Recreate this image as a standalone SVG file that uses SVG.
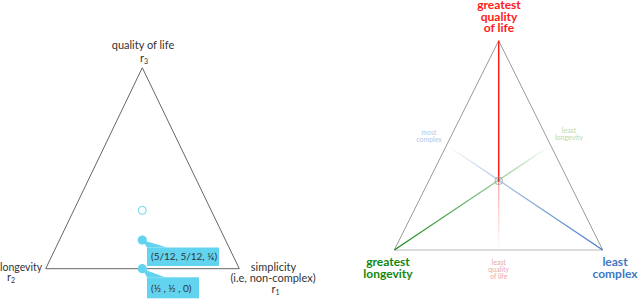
<svg xmlns="http://www.w3.org/2000/svg" width="640" height="300" viewBox="0 0 640 300">
<style>
.lbl{font-family:Lato,"Liberation Sans",sans-serif;fill:#333;}
.big{font-family:Lato,"Liberation Sans",sans-serif;font-weight:bold;font-size:12px;text-anchor:middle;}
.small{font-family:Lato,"Liberation Sans",sans-serif;font-size:7px;text-anchor:middle;}
.call{fill:#62d4ef;}
</style>
<defs>
<linearGradient id="gRed" gradientUnits="userSpaceOnUse" x1="498.7" y1="40.7" x2="498.7" y2="250">
<stop offset="0" stop-color="#ff1a1a" stop-opacity="1"/>
<stop offset="0.67" stop-color="#ff1a1a" stop-opacity="1"/>
<stop offset="0.68" stop-color="#ff1a1a" stop-opacity="0.35"/>
<stop offset="1" stop-color="#ff1a1a" stop-opacity="0"/>
</linearGradient>
<linearGradient id="gGreen" gradientUnits="userSpaceOnUse" x1="394.3" y1="250" x2="550.7" y2="145.3">
<stop offset="0" stop-color="#118811" stop-opacity="1"/>
<stop offset="0.66" stop-color="#118811" stop-opacity="0.45"/>
<stop offset="1" stop-color="#118811" stop-opacity="0"/>
</linearGradient>
<linearGradient id="gBlue" gradientUnits="userSpaceOnUse" x1="602.7" y1="250" x2="446.7" y2="145.3">
<stop offset="0" stop-color="#3f78c4" stop-opacity="1"/>
<stop offset="0.66" stop-color="#3f78c4" stop-opacity="0.45"/>
<stop offset="1" stop-color="#3f78c4" stop-opacity="0"/>
</linearGradient>
</defs>
<rect width="640" height="300" fill="#fff"/>

<!-- Left ternary diagram -->
<g id="left-triangle">
<polygon points="142.3,67.7 45.7,268.7 239.3,268.7" fill="none" stroke="#666" stroke-width="1"/>
</g>
<g id="label-quality">
<text class="lbl" x="143" y="49" font-size="11" text-anchor="middle">quality of life</text>
<text class="lbl" x="140" y="61.5" font-size="11">r<tspan font-size="7" dy="2">3</tspan></text>
</g>
<g id="label-longevity">
<text class="lbl" x="0" y="271" font-size="10.5">longevity</text>
<text class="lbl" x="7" y="281" font-size="11">r<tspan font-size="7" dy="2">2</tspan></text>
</g>
<g id="label-simplicity">
<text class="lbl" x="273.5" y="271" font-size="11" text-anchor="middle">simplicity</text>
<text class="lbl" x="273" y="282" font-size="11" text-anchor="middle">(i.e, non-complex)</text>
<text class="lbl" x="271.5" y="293" font-size="11">r<tspan font-size="7" dy="2">1</tspan></text>
</g>
<g id="point-hollow">
<circle cx="142.3" cy="210.3" r="4" fill="#fff" stroke="#62d4ef" stroke-width="1"/>
</g>
<g id="point-a">
<circle class="call" cx="142.3" cy="240" r="4.6"/>
<polygon class="call" points="142.3,240 167,247.5 147,247.5"/>
<rect class="call" x="147" y="247.5" width="72" height="18.5"/>
<text class="lbl" x="151" y="259.5" font-size="10">(5/12, 5/12, ⅙)</text>
</g>
<g id="point-b">
<circle class="call" cx="142.3" cy="268.7" r="4.6"/>
<polygon class="call" points="142.3,268.7 165,277.3 147,277.3"/>
<rect class="call" x="147" y="277.3" width="52" height="21"/>
<text class="lbl" x="151" y="292" font-size="10">(½ , ½ , 0)</text>
</g>

<!-- Right diagram -->
<g id="right-triangle">
<polyline points="394.3,250 498.7,40.7 602.7,250" fill="none" stroke="#9a9a9a" stroke-width="1"/>
<line x1="394.3" y1="250" x2="602.7" y2="250" stroke="#b8b8b8" stroke-width="1"/>
</g>
<g id="connectors">
<line x1="498.7" y1="40.7" x2="498.7" y2="250" stroke="url(#gRed)" stroke-width="1.5"/>
<line x1="394.3" y1="250" x2="550.7" y2="145.3" stroke="url(#gGreen)" stroke-width="1.3"/>
<line x1="602.7" y1="250" x2="446.7" y2="145.3" stroke="url(#gBlue)" stroke-width="1.3"/>
</g>
<g id="center-point">
<circle cx="498.7" cy="180.8" r="3.8" fill="none" stroke="#999" stroke-width="0.8"/>
</g>
<g id="label-greatest-quality">
<text class="big" fill="#ff1a1a" x="499" y="9">greatest</text>
<text class="big" fill="#ff1a1a" x="499" y="20.5">quality</text>
<text class="big" fill="#ff1a1a" x="499" y="32">of life</text>
</g>
<g id="label-greatest-longevity">
<text class="big" fill="#118811" x="388" y="265.5">greatest</text>
<text class="big" fill="#118811" x="388" y="277.5">longevity</text>
</g>
<g id="label-least-complex">
<text class="big" fill="#3f78c4" x="615" y="265.5" font-weight="normal">least</text>
<text class="big" fill="#3f78c4" x="615" y="277.5" font-weight="normal">complex</text>
</g>
<g id="label-least-quality">
<text class="small" fill="#e8a8a8" x="498.7" y="264.5">least</text>
<text class="small" fill="#e8a8a8" x="498.7" y="271.5">quality</text>
<text class="small" fill="#e8a8a8" x="498.7" y="278.5">of life</text>
</g>
<g id="label-most-complex">
<text class="small" fill="#b4c8e6" x="429" y="135">most</text>
<text class="small" fill="#b4c8e6" x="429" y="142">complex</text>
</g>
<g id="label-least-longevity">
<text class="small" fill="#bcd8a8" x="569" y="133">least</text>
<text class="small" fill="#bcd8a8" x="569" y="140">longevity</text>
</g>
</svg>
